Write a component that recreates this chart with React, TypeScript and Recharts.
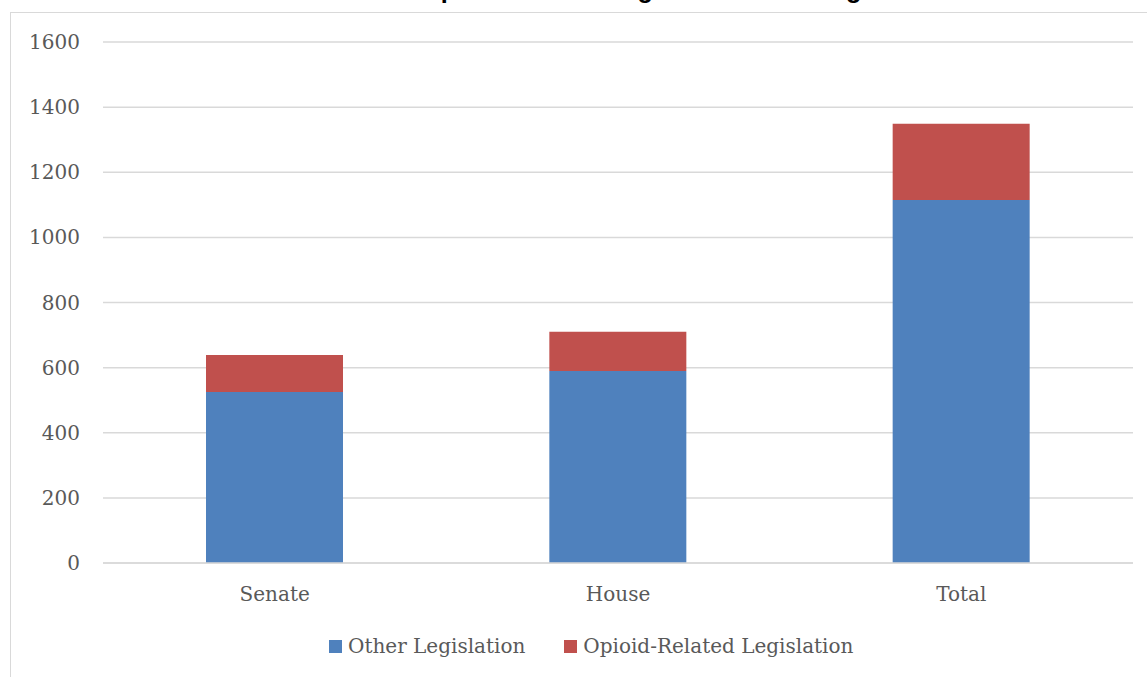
import { BarChart, Bar, XAxis, YAxis, CartesianGrid } from "recharts";

// bill counts per chamber, split into opioid-related vs everything else
const CHAMBERS = ["Senate", "House", "Total"];
const OTHER_BILLS = [525, 590, 1115];
const OPIOID_BILLS = [114, 120, 234];
const Y_TICKS = [0, 200, 400, 600, 800, 1000, 1200, 1400, 1600];

const SERIES = [
    { key: "other", name: "Other Legislation", color: "#4F81BD" },
    { key: "opioid", name: "Opioid-Related Legislation", color: "#C0504D" },
];

const TITLE = "Opioid-Related Legislation in All Legislation";

const data = CHAMBERS.map((chamber, i) => ({
    chamber,
    other: OTHER_BILLS[i],
    opioid: OPIOID_BILLS[i],
}));

const LABEL_FONT = "'DejaVu Serif', serif";
const TEXT_COLOR = "#595959";
const LINE_COLOR = "#D9D9D9";

export default function App() {
    return (
        <div style={{ position: "absolute", left: 0, top: 0, width: 1147, height: 677, background: "#fff", overflow: "hidden" }}>
            {/* chart area frame */}
            <div
                style={{
                    position: "absolute",
                    left: 10,
                    top: 12,
                    width: 1200,
                    height: 700,
                    borderTop: `1px solid ${LINE_COLOR}`,
                    borderLeft: `1px solid ${LINE_COLOR}`,
                }}
            />

            {/* title sits above the top edge, only its descenders reach into view */}
            <svg width={1147} height={40} style={{ position: "absolute", left: 0, top: 0 }}>
                <text
                    x={421}
                    y={-2}
                    fontFamily="'Liberation Sans', Arial, sans-serif"
                    fontWeight="bold"
                    fontSize={25.3}
                    fill="#000"
                >
                    {TITLE}
                </text>
            </svg>

            <div style={{ position: "absolute", left: 0, top: 0 }}>
                <BarChart width={1147} height={677} data={data} margin={{ top: 42, right: 14, left: 0, bottom: 0 }} barCategoryGap="30%">
                    <CartesianGrid vertical={false} stroke={LINE_COLOR} strokeWidth={1.5} />
                    <XAxis
                        dataKey="chamber"
                        height={114}
                        tickLine={false}
                        tickSize={0}
                        tickMargin={24}
                        axisLine={{ stroke: LINE_COLOR, strokeWidth: 1.5 }}
                        tick={{ fill: TEXT_COLOR, fontSize: 20, fontFamily: LABEL_FONT }}
                    />
                    <YAxis
                        width={103}
                        domain={[0, 1600]}
                        ticks={Y_TICKS}
                        axisLine={false}
                        tickLine={false}
                        tickSize={0}
                        tickMargin={23}
                        tick={{ fill: TEXT_COLOR, fontSize: 20, fontFamily: LABEL_FONT }}
                    />
                    {SERIES.map((s) => (
                        <Bar key={s.key} dataKey={s.key} name={s.name} stackId="bills" fill={s.color} isAnimationActive={false} />
                    ))}
                </BarChart>
            </div>

            {/* legend */}
            <div
                style={{
                    position: "absolute",
                    left: 329,
                    top: 636,
                    display: "flex",
                    alignItems: "center",
                    gap: 39,
                    fontFamily: LABEL_FONT,
                    fontSize: 20,
                    lineHeight: "20px",
                    color: TEXT_COLOR,
                    whiteSpace: "nowrap",
                }}
            >
                {SERIES.map((s) => (
                    <div key={s.key} style={{ display: "flex", alignItems: "center" }}>
                        <span style={{ width: 13, height: 13, background: s.color, marginRight: 6, display: "inline-block" }} />
                        <span>{s.name}</span>
                    </div>
                ))}
            </div>
        </div>
    );
}
